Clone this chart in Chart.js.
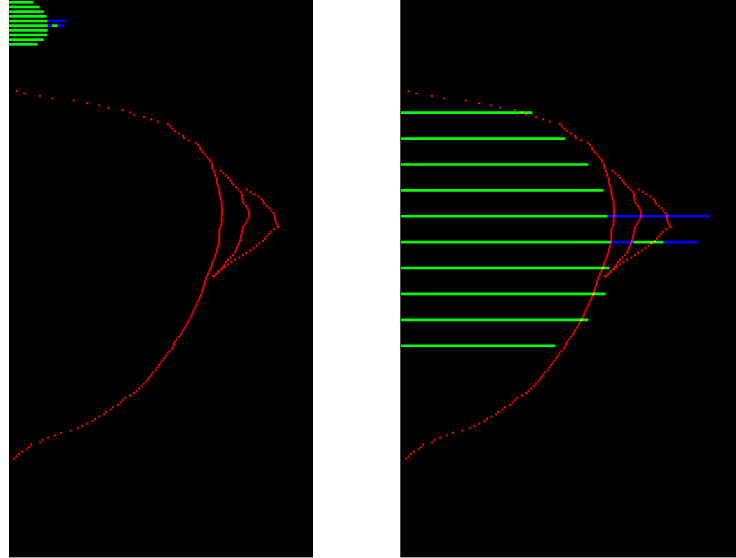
<!DOCTYPE html>
<html>
<head>
<meta charset="utf-8">
<script src="https://cdn.jsdelivr.net/npm/chart.js@4.4.1/dist/chart.umd.min.js"></script>
<style>
  html, body { margin: 0; padding: 0; background: #ffffff; width: 736px; height: 558px; overflow: hidden; }
  canvas.panel { position: absolute; top: 0; }
  #leftPanel { left: 9px; }
  #rightPanel { left: 400px; }
</style>
</head>
<body>
<canvas id="leftPanel" class="panel" width="304" height="558"></canvas>
<canvas id="rightPanel" class="panel" width="336" height="558"></canvas>
<script>
// Sampled profiles: one x value per row, rows counted downward from the top.
const outerStartRow = 39;
const outerX = [
  7.7, 15.3, 31, 43.3, 64.7, 78.3, 90.3, 99.3, 113.7, 121,
  125.3, 135, 142, 149, 158.7, 161, 163.3, 165.7, 170, 174,
  175, 179.7, 186.7, 189, 191, 191.5, 193.7, 196, 198.3, 200.5,
  201, 203, 203.3, 203.5, 205, 205.7, 206, 207.5, 208, 208,
  208.5, 209.5, 210.3, 210.3, 210.5, 211, 211.5, 212.5, 212.7, 212.7,
  213, 213, 213, 212.7, 212.7, 212.7, 212.5, 212.3, 211.5, 210.5,
  210.3, 210.3, 210.3, 210, 210, 209.7, 209, 208.3, 208, 207.3,
  206.3, 205.7, 204.5, 203.3, 203, 202.3, 201, 200.3, 199, 198.3,
  197, 196.3, 196, 195, 194, 193.5, 193.3, 192, 191, 190,
  188.7, 187.5, 186.5, 185.3, 184.3, 183.3, 182.5, 181.3, 180, 178.5,
  177.3, 176, 174.3, 173, 171.7, 170, 168, 166, 165, 164.3,
  163, 160.5, 158.5, 157, 155.3, 153.5, 151.7, 150.3, 148.5, 146.7,
  144.3, 142.3, 140.5, 139, 137.2, 134.8, 132.7, 130, 127.5, 125,
  121, 116.3, 114, 111.7, 109, 104, 101.5, 97, 95, 90.3,
  86, 83.3, 78.3, 73.5, 69, 61.5, 52, 45.7, 39, 33.7,
  31.3, 22, 19.7, 17.7, 12.7, 10, 7.7, 5.3
];

const midStartRow = 73;
const midX = [
  211.8, 214.5, 217, 219, 221.5, 223, 224.5, 227, 229.5, 231.5,
  232.8, 233, 233.5, 233.5, 235, 237, 238.5, 239.5, 240.2, 240.2,
  239.5, 238.5, 237, 235.5, 234, 233.5, 233, 232.5, 232, 231.5,
  231, 230, 229, 228, 227, 226.2, 224, 221.5, 219, 217,
  215.5, 214, 212.2, 209.5, 207, 204.5
];

const tipStartRow = 81;
const tipX = [
  237.7, 242, 245.2, 249.5, 252.5, 254, 255, 258, 260.5, 262.5,
  264.5, 265.7, 266, 266.2, 267, 268.5, 269, 265, 261.5, 260,
  258, 256, 254, 250.5, 247.5, 244.5, 241, 237, 234, 230.5,
  226, 222.5, 219, 216, 213, 210, 207.5, 204.5
];

// Horizontal bands (level 1 at the top).
const bandLevels = [1, 2, 3, 4, 5, 6, 7, 8, 9, 10];
const bandLength = [131, 164, 187, 202, 206, 209, 208, 204, 187, 154];
const blueSpanA  = [null, null, null, null, [206, 309], [209, 232], null, null, null, null];
const greenSpanB = [null, null, null, null, null, [232, 262], null, null, null, null];
const blueSpanB  = [null, null, null, null, null, [262, 297], null, null, null, null];

const RED = '#ff0000';
const GREEN = '#00ff00';
const BLUE = '#0000ff';

function profilePoints(startRow, xs) {
  return xs.map((x, i) => ({ x: x, y: startRow + i }));
}
function spanPoints(spans) {
  const out = [];
  spans.forEach((s, i) => { if (s) out.push({ x: s, y: bandLevels[i] }); });
  return out;
}

const backdrop = {
  id: 'backdrop',
  beforeDraw(chart, args, opts) {
    const { ctx, chartArea: a } = chart;
    ctx.save();
    ctx.fillStyle = '#000000';
    ctx.fillRect(a.left, a.top, a.right - a.left, a.bottom - a.top);
    ctx.fillStyle = '#a8a8a8';
    ctx.fillRect(a.left - (opts.leftEdge ? 1 : 0), a.bottom, a.right - a.left + (opts.leftEdge ? 1 : 0), 1);
    if (opts.leftEdge) {
      ctx.fillStyle = '#4a4a4a';
      ctx.fillRect(a.left - 1, a.top, 1, a.bottom - a.top);
    }
    ctx.restore();
  }
};

// Red samples are added onto whatever lies beneath them.
const additive = {
  id: 'additive',
  beforeDatasetDraw(chart, args) {
    if (chart.data.datasets[args.index].type === 'scatter') {
      chart.ctx.save();
      chart.ctx.globalCompositeOperation = 'lighter';
    }
  },
  afterDatasetDraw(chart, args) {
    if (chart.data.datasets[args.index].type === 'scatter') {
      chart.ctx.restore();
    }
  }
};

function makePanel(el, cfg) {
  const curve = (data) => ({
    type: 'scatter', data: data, xAxisID: 'x', yAxisID: 'y',
    pointStyle: 'rect', pointRadius: 1.45, pointBorderWidth: 0,
    backgroundColor: RED, borderColor: RED, order: 0
  });
  const band = (data, color) => ({
    type: 'bar', indexAxis: 'y', data: data, xAxisID: 'x2', yAxisID: 'y2',
    grouped: false, barThickness: 2, backgroundColor: color, borderWidth: 0, order: 1
  });
  return new Chart(el, {
    type: 'scatter',
    data: {
      datasets: [
        curve(profilePoints(outerStartRow, outerX)),
        curve(profilePoints(midStartRow, midX)),
        curve(profilePoints(tipStartRow, tipX)),
        band(bandLevels.map((lv, i) => ({ x: bandLength[i], y: lv })), GREEN),
        band(spanPoints(blueSpanA), BLUE),
        band(spanPoints(greenSpanB), GREEN),
        band(spanPoints(blueSpanB), BLUE)
      ]
    },
    options: {
      responsive: false,
      animation: false,
      devicePixelRatio: 1,
      events: [],
      layout: { autoPadding: false, padding: { left: cfg.leftEdge ? 1 : 0, right: 0, top: 0, bottom: 1 } },
      plugins: {
        legend: { display: false },
        tooltip: { enabled: false },
        backdrop: { leftEdge: cfg.leftEdge }
      },
      scales: {
        x:  { type: 'linear', display: false, offset: false, min: 0, max: cfg.xMax },
        y:  { type: 'linear', display: false, offset: false, min: 0, max: 238, reverse: true },
        x2: { type: 'linear', display: false, offset: false, min: 0, max: cfg.bandXMax },
        y2: { type: 'linear', display: false, offset: false, min: cfg.bandYMin, max: cfg.bandYMax, reverse: true }
      }
    },
    plugins: [backdrop, additive]
  });
}

// Left: bands on a wide range so they sit small in the corner.
makePanel(document.getElementById('leftPanel'), {
  leftEdge: false, xMax: 304, bandXMax: 1650, bandYMin: 0.507, bandYMax: 119.86
});
// Right: bands at full size across the panel.
makePanel(document.getElementById('rightPanel'), {
  leftEdge: true, xMax: 335, bandXMax: 335, bandYMin: -3.353, bandYMax: 18.161
});
</script>
</body>
</html>
